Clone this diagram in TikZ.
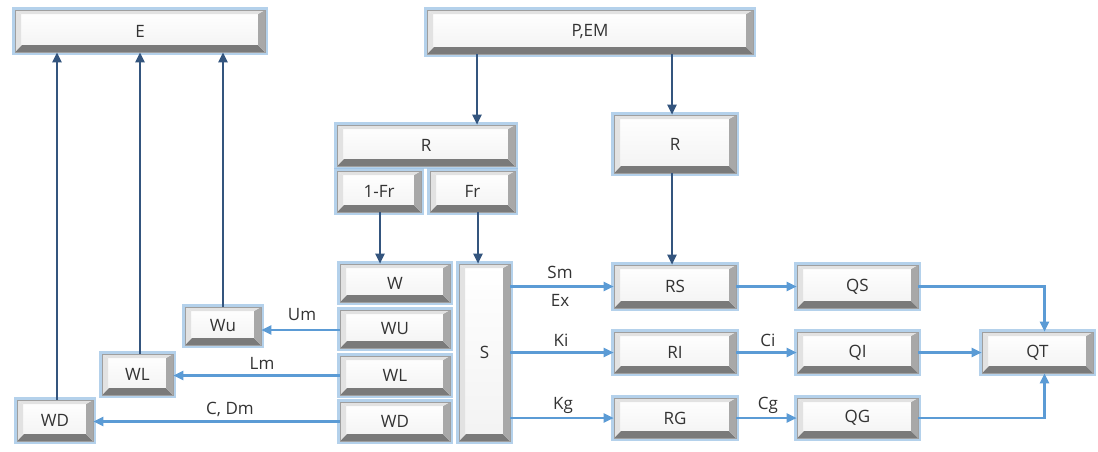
\documentclass[tikz,border=0pt]{standalone}
\usepackage{fontspec}
\setmainfont{Open Sans}
\usetikzlibrary{arrows.meta,calc}
\definecolor{darkln}{HTML}{34557E}
\definecolor{lightln}{HTML}{5B9BD5}
\definecolor{glow}{HTML}{9CC2E5}
\definecolor{bevdark}{HTML}{7A7A7A}
\definecolor{bevmid}{HTML}{A8A8A8}
\definecolor{bevlight}{HTML}{E2E2E2}
\tikzset{
  bx/.style={rectangle, inner sep=0pt, font=\fontsize{17}{19}\selectfont, text=black!80,
    preaction={draw=glow, line width=6pt, opacity=0.75},
    top color=white, bottom color=gray!10, draw=gray!75, line width=0.6pt,
    path picture={
      \fill[bevdark] (path picture bounding box.south west) -- (path picture bounding box.south east)
        -- ([shift={(-7pt,7pt)}]path picture bounding box.south east) -- ([shift={(7pt,7pt)}]path picture bounding box.south west) -- cycle;
      \fill[bevmid] (path picture bounding box.south east) -- (path picture bounding box.north east)
        -- ([shift={(-7pt,-4pt)}]path picture bounding box.north east) -- ([shift={(-7pt,7pt)}]path picture bounding box.south east) -- cycle;
      \fill[bevlight] (path picture bounding box.north west) -- (path picture bounding box.north east)
        -- ([shift={(-7pt,-4pt)}]path picture bounding box.north east) -- ([shift={(6pt,-4pt)}]path picture bounding box.north west) -- cycle;
      \fill[bevlight] (path picture bounding box.north west) -- (path picture bounding box.south west)
        -- ([shift={(6pt,7pt)}]path picture bounding box.south west) -- ([shift={(6pt,-4pt)}]path picture bounding box.north west) -- cycle;
    }},
  dk/.style={draw=darkln, line width=2.2pt, -{Triangle[length=10pt,width=9pt]}},
  lt/.style={draw=lightln, line width=2.2pt, -{Triangle[length=10pt,width=9pt]}},
  lbl/.style={font=\fontsize{17}{19}\selectfont, text=black!80, inner sep=0pt}
}
\begin{document}
\begin{tikzpicture}[x=1pt,y=-1pt]
\useasboundingbox (0,0) rectangle (1098,451);
\fill[white] (0,0) rectangle (1098,451);
% nodes
\node[bx, minimum width=250pt, minimum height=42pt] (E) at (140,31) {E};
\node[bx, minimum width=326pt, minimum height=44pt] (PEM) at (590,32) {P,EM};
\node[bx, minimum width=178pt, minimum height=41pt] (Rl) at (426,145.5) {R};
\node[bx, minimum width=84pt, minimum height=41pt] (Fr1) at (379,191.5) {1-Fr};
\node[bx, minimum width=85pt, minimum height=41pt] (Fr) at (472.5,191.5) {Fr};
\node[bx, minimum width=122pt, minimum height=58pt] (Rr) at (675,144) {R};
\node[bx, minimum width=110pt, minimum height=38pt] (W) at (395,283) {W};
\node[bx, minimum width=110pt, minimum height=38pt] (WU) at (395,329) {WU};
\node[bx, minimum width=110pt, minimum height=39pt] (WL) at (395,375.5) {WL};
\node[bx, minimum width=110pt, minimum height=39pt] (WD) at (395,421.5) {WD};
\node[bx, minimum width=51pt, minimum height=177pt] (S) at (484.5,352.5) {S};
\node[bx, minimum width=76pt, minimum height=38pt] (Wu) at (223,326) {Wu};
\node[bx, minimum width=71pt, minimum height=41pt] (WLl) at (137.5,374.5) {WL};
\node[bx, minimum width=76pt, minimum height=41pt] (WDl) at (55,420.5) {WD};
\node[bx, minimum width=122pt, minimum height=43pt] (RS) at (675,286.5) {RS};
\node[bx, minimum width=122pt, minimum height=41pt] (RI) at (675,352.5) {RI};
\node[bx, minimum width=122pt, minimum height=40pt] (RG) at (675,418) {RG};
\node[bx, minimum width=121pt, minimum height=43pt] (QS) at (857.5,286.5) {QS};
\node[bx, minimum width=121pt, minimum height=41pt] (QI) at (857.5,352.5) {QI};
\node[bx, minimum width=121pt, minimum height=40pt] (QG) at (857.5,418) {QG};
\node[bx, minimum width=111pt, minimum height=41pt] (QT) at (1037.5,352.5) {QT};
% upward arrows to E
\draw[dk] ([xshift=2pt]WDl.north) -- ([xshift=2pt]WDl.north |- E.south);
\draw[dk] ([xshift=2.5pt]WLl.north) -- ([xshift=2.5pt]WLl.north |- E.south);
\draw[dk] (Wu.north) -- (Wu.north |- E.south);
% from P,EM
\coordinate (p1) at (477,54);
\coordinate (p2) at (672,54);
\draw[dk] (PEM.south -| p1) -- (Rl.north -| p1);
\draw[dk] (PEM.south -| p2) -- (Rr.north -| p2);
\draw[dk] ([xshift=-3pt]Rr.south) -- ([xshift=-3pt]Rr.south |- RS.north);
\draw[dk] ([xshift=1pt]Fr1.south) -- ([xshift=1pt]Fr1.south |- W.north);
\draw[dk] ([xshift=5.5pt]Fr.south) -- ([xshift=5.5pt]Fr.south |- S.north);
% S to R boxes
\draw[lt] (S.east |- RS) -- (RS.west);
\draw[lt] (S.east |- RI) -- (RI.west);
\draw[lt] (S.east |- RG) -- (RG.west);
\node[lbl] (lSm) at (560,272) {Sm};
\node[lbl] (lEx) at (560,300) {Ex};
\node[lbl] (lKi) at (561,340) {Ki};
\node[lbl] (lKg) at (563,405) {Kg};
% R to Q
\draw[lt] (RS.east) -- (QS.west);
\draw[lt] (RI.east) -- (QI.west);
\draw[lt] (RG.east) -- (QG.west);
\node[lbl] (lCi) at (768,340) {Ci};
\node[lbl] (lCg) at (768,405) {Cg};
% Q to QT
\draw[lt] (QS.east) -| ([xshift=7pt]QT.north);
\draw[lt] (QI.east) -- (QT.west);
\draw[lt] (QG.east) -| ([xshift=7pt]QT.south);
% W boxes to left
\draw[lt] ([yshift=-1pt]WU.west) -- ([yshift=-1pt]WU.west -| Wu.east);
\draw[lt] (WL.west) -- (WL.west -| WLl.east);
\draw[lt] (WD.west) -- (WD.west -| WDl.east);
\node[lbl] (lUm) at (302,315) {Um};
\node[lbl] (lLm) at (262,363) {Lm};
\node[lbl] (lCDm) at (230,409) {C, Dm};
\end{tikzpicture}
\end{document}
